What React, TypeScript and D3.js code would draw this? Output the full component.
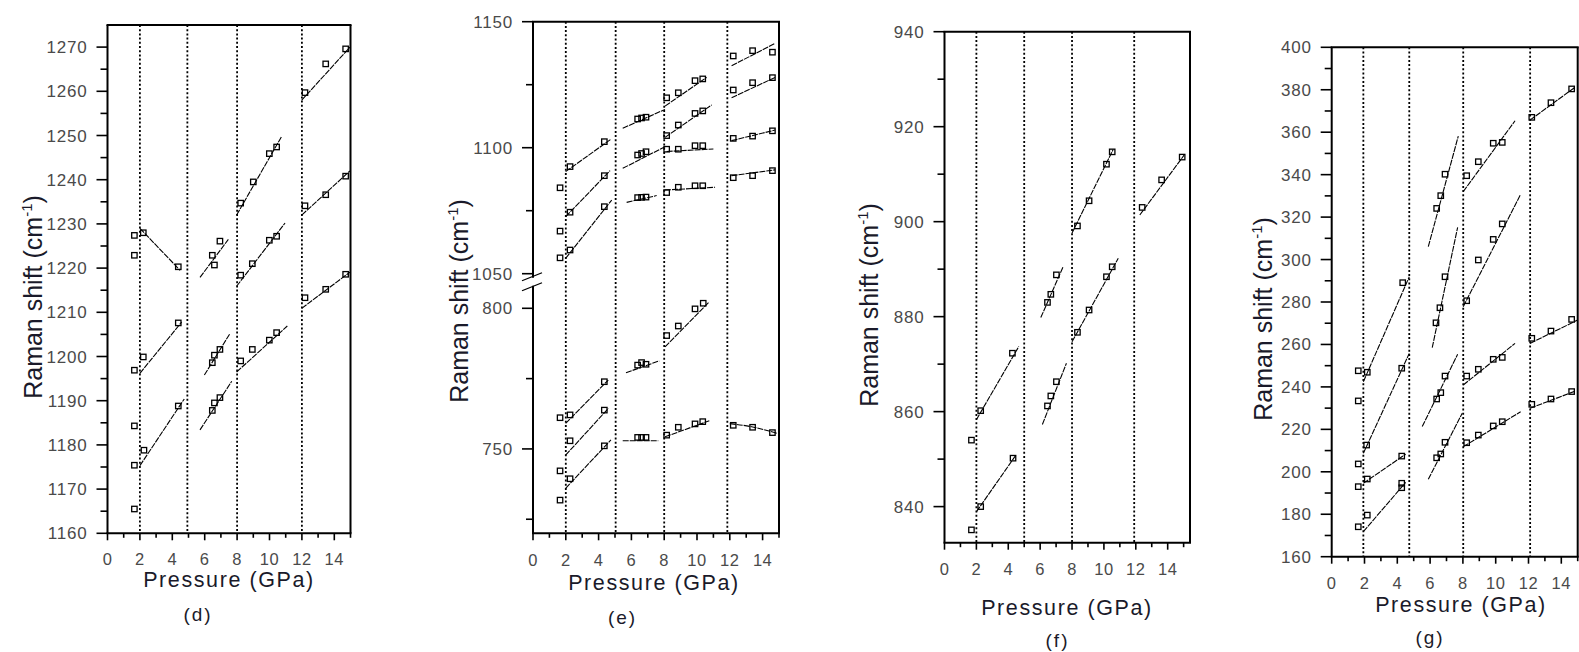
import React from "react";
import * as d3 from "d3";

type Pt = [number, number];

// ---------- shared axis data ----------
const xMajor = [0, 2, 4, 6, 8, 10, 12, 14];
const xMinor = [1, 3, 5, 7, 9, 11, 13, 15];
const xTitle = "Pressure (GPa)";
const panelLabels = ["(d)", "(e)", "(f)", "(g)"];

// ---------- panel (d) ----------
const boundsD = [2, 4.93, 8, 12];
const yMajorD = [1160, 1170, 1180, 1190, 1200, 1210, 1220, 1230, 1240, 1250, 1260, 1270];
const yMinorD = [1165, 1175, 1185, 1195, 1205, 1215, 1225, 1235, 1245, 1255, 1265];
const pointsD: Pt[] = [
  [1.66, 1227.4], [1.66, 1222.9], [2.21, 1228.0], [4.37, 1220.3],
  [6.47, 1222.9], [6.6, 1220.7], [6.94, 1226.1],
  [8.22, 1234.7], [9.0, 1239.5], [9.99, 1245.9], [10.44, 1247.4],
  [8.22, 1218.4], [8.94, 1221.0], [9.99, 1226.3], [10.44, 1227.2],
  [12.19, 1259.7], [13.47, 1266.2], [14.7, 1269.6],
  [12.19, 1234.1], [13.47, 1236.6], [14.7, 1240.8],
  [12.19, 1213.3], [13.47, 1215.2], [14.7, 1218.6],
  [1.66, 1196.9], [2.21, 1199.9], [4.37, 1207.6],
  [1.66, 1184.3], [1.66, 1175.4], [2.25, 1178.8], [4.37, 1188.8], [1.66, 1165.5],
  [6.47, 1198.6], [6.6, 1200.3], [6.94, 1201.6],
  [6.47, 1187.8], [6.6, 1189.5], [6.94, 1190.7],
  [8.22, 1199.0], [8.94, 1201.6], [9.99, 1203.7], [10.44, 1205.4],
];
const fitsD: Pt[][] = [
  [[2.0, 1229.0], [4.48, 1219.5]],
  [[5.71, 1217.9], [7.46, 1226.5]],
  [[7.97, 1232.0], [10.75, 1249.8]],
  [[7.97, 1215.9], [10.96, 1230.2]],
  [[11.99, 1258.0], [14.97, 1270.0]],
  [[11.99, 1232.0], [14.97, 1242.0]],
  [[11.99, 1210.9], [14.97, 1219.1]],
  [[2.0, 1196.2], [4.58, 1207.8]],
  [[2.0, 1175.3], [4.74, 1190.4]],
  [[5.98, 1195.8], [7.56, 1205.2]],
  [[5.71, 1183.4], [7.67, 1194.4]],
  [[7.97, 1196.5], [11.1, 1206.9]],
];

// ---------- panel (e) (broken axis) ----------
const boundsE = [2, 5.04, 8, 11.85];
const yMajorEUpper = [1050, 1100, 1150];
const yMinorEUpper = [1075, 1125];
const yMajorELower = [750, 800];
const yMinorELower = [725, 775];
const pointsE: Pt[] = [
  [1.65, 1084.1], [1.65, 1066.9], [1.65, 1056.3],
  [2.26, 1092.5], [4.35, 1102.4],
  [2.26, 1074.4], [4.35, 1088.9],
  [2.26, 1059.4], [4.35, 1076.6],
  [6.38, 1111.4], [6.62, 1111.8], [6.89, 1112.1],
  [6.38, 1097.1], [6.62, 1097.7], [6.89, 1098.4],
  [6.38, 1080.2], [6.62, 1080.3], [6.89, 1080.4],
  [8.15, 1119.8], [8.86, 1121.8], [9.88, 1126.6], [10.35, 1127.3],
  [8.15, 1104.8], [8.86, 1109.0], [9.88, 1113.6], [10.35, 1114.6],
  [8.15, 1099.4], [8.86, 1099.4], [9.88, 1100.8], [10.35, 1100.8],
  [8.15, 1082.2], [8.86, 1084.3], [9.88, 1084.9], [10.35, 1084.9],
  [12.21, 1136.4], [13.39, 1138.5], [14.6, 1137.9],
  [12.21, 1122.9], [13.39, 1125.8], [14.6, 1127.8],
  [12.21, 1103.7], [13.39, 1104.6], [14.6, 1106.7],
  [12.21, 1088.1], [13.39, 1088.9], [14.6, 1090.9],
  [1.65, 761.1], [2.26, 762.1], [4.35, 773.9],
  [2.26, 752.9], [4.35, 763.8],
  [1.65, 742.2], [2.26, 739.4], [4.35, 751.1], [1.65, 731.8],
  [6.38, 779.8], [6.62, 780.7], [6.89, 780.1],
  [6.38, 754.1], [6.62, 754.1], [6.89, 754.1],
  [8.15, 790.3], [8.86, 793.7], [9.88, 799.8], [10.38, 801.8],
  [8.15, 754.9], [8.86, 757.7], [9.88, 758.9], [10.35, 759.7],
  [12.21, 758.4], [13.39, 757.7], [14.6, 755.8],
];
const fitsE: Pt[][] = [
  [[1.99, 1090.5], [4.74, 1103.3]],
  [[1.99, 1072.6], [4.7, 1090.9]],
  [[1.99, 1056.1], [4.8, 1079.2]],
  [[5.47, 1107.7], [8.05, 1115.2]],
  [[5.47, 1091.8], [8.05, 1100.4]],
  [[5.71, 1078.3], [7.54, 1081.0]],
  [[8.05, 1116.5], [10.59, 1127.9]],
  [[8.05, 1104.1], [10.9, 1117.0]],
  [[8.15, 1098.5], [11.0, 1099.5]],
  [[8.05, 1083.2], [11.1, 1084.3]],
  [[12.11, 1132.5], [14.76, 1141.4]],
  [[12.11, 1119.8], [14.76, 1127.9]],
  [[12.11, 1102.8], [14.76, 1107.0]],
  [[12.11, 1088.9], [14.76, 1091.2]],
  [[1.99, 759.1], [4.59, 774.5]],
  [[1.99, 747.8], [4.59, 764.4]],
  [[1.99, 736.0], [4.75, 753.2]],
  [[5.67, 777.1], [7.7, 781.3]],
  [[5.47, 752.9], [7.64, 752.9]],
  [[8.05, 786.3], [10.75, 802.3]],
  [[8.05, 754.3], [10.75, 760.0]],
  [[12.0, 759.0], [13.4, 757.8], [14.9, 755.5]],
];

// ---------- panel (f) ----------
const boundsF = [2, 5, 8, 11.9];
const yMajorF = [840, 860, 880, 900, 920, 940];
const yMinorF = [850, 870, 890, 910, 930];
const pointsF: Pt[] = [
  [8.34, 899.1], [9.07, 904.4], [10.16, 912.1], [10.52, 914.7],
  [12.4, 903.0], [13.62, 908.8], [14.91, 913.6],
  [6.46, 883.0], [6.67, 884.7], [7.02, 888.8],
  [8.34, 876.7], [9.07, 881.4], [10.16, 888.4], [10.52, 890.5],
  [6.46, 861.2], [6.67, 863.3], [7.02, 866.3],
  [1.69, 854.0], [2.27, 860.2], [4.26, 872.3],
  [1.69, 835.1], [2.27, 840.0], [4.3, 850.2],
];
const fitsF: Pt[][] = [
  [[8.0, 897.6], [10.58, 915.2]],
  [[12.25, 901.4], [15.03, 914.0]],
  [[6.04, 879.8], [7.44, 890.5]],
  [[8.0, 874.7], [10.9, 892.3]],
  [[6.14, 857.3], [7.65, 870.2]],
  [[2.0, 858.3], [4.66, 873.7]],
  [[2.0, 838.9], [4.47, 850.8]],
];

// ---------- panel (g) ----------
const boundsG = [1.93, 4.73, 8.02, 12.1];
const yMajorG = [160, 180, 200, 220, 240, 260, 280, 300, 320, 340, 360, 380, 400];
const yMinorG = [170, 190, 210, 230, 250, 270, 290, 310, 330, 350, 370, 390];
const pointsG: Pt[] = [
  [12.2, 367.0], [13.37, 373.9], [14.63, 380.4],
  [8.23, 339.5], [8.94, 346.1], [9.85, 354.8], [10.4, 355.2],
  [8.23, 280.6], [8.94, 299.8], [9.85, 309.5], [10.4, 316.8],
  [6.4, 324.1], [6.65, 330.1], [6.91, 340.2],
  [6.36, 270.2], [6.6, 277.3], [6.91, 291.9],
  [1.62, 247.6], [2.17, 246.9], [4.33, 289.1],
  [1.62, 233.4], [2.13, 212.6], [4.27, 248.8],
  [1.62, 203.7], [1.62, 193.0], [2.17, 196.6], [4.27, 207.4],
  [1.62, 174.1], [2.17, 179.6], [4.27, 194.6], [4.27, 192.5],
  [6.4, 234.3], [6.65, 237.3], [6.91, 245.1],
  [6.4, 206.6], [6.65, 208.4], [6.91, 213.9],
  [8.23, 245.1], [8.94, 248.3], [9.85, 253.0], [10.4, 253.9],
  [8.23, 213.7], [8.94, 217.3], [9.85, 221.6], [10.4, 223.6],
  [12.2, 262.9], [13.37, 266.3], [14.63, 271.8],
  [12.2, 231.8], [13.37, 234.3], [14.63, 237.8],
];
const fitsG: Pt[][] = [
  [[12.09, 365.7], [14.84, 381.2]],
  [[8.02, 332.0], [11.18, 365.4]],
  [[8.02, 277.8], [11.52, 330.7]],
  [[5.89, 306.1], [7.72, 358.2]],
  [[6.13, 258.5], [7.68, 315.2]],
  [[1.93, 242.4], [4.73, 291.9]],
  [[1.93, 208.7], [4.73, 255.8]],
  [[1.93, 194.6], [4.51, 208.3]],
  [[1.93, 171.8], [4.51, 195.0]],
  [[5.52, 221.3], [7.68, 255.4]],
  [[5.89, 196.5], [7.96, 227.6]],
  [[8.02, 240.9], [11.18, 260.5]],
  [[8.02, 211.8], [11.52, 228.3]],
  [[12.09, 260.5], [15.0, 271.5]],
  [[12.09, 229.9], [14.84, 238.0]],
];

// ---------- layout ----------
const FONT = "Arial, 'Liberation Sans', Helvetica, sans-serif";
const TICK_COLOR = "#4a4a4a";
const TEXT_COLOR = "#1a1a2a";

interface Layout {
  left: number; right: number; top: number; bottom: number;
  xMax: number; tickDy: number; titleDy: number; titleX: number;
  yTitleX: number; yTitleY: number; labelX: number; labelY: number;
}

interface PanelProps {
  lay: Layout;
  y: (v: number) => number;
  yMajor: number[];
  yMinor: number[];
  bounds: number[];
  points: Pt[];
  fits: Pt[][];
  label: string;
  axisGaps?: [number, number][];
  breakMarks?: number;
}

function Panel({ lay, y, yMajor, yMinor, bounds, points, fits, label, axisGaps, breakMarks }: PanelProps) {
  const x = d3.scaleLinear().domain([0, lay.xMax]).range([lay.left, lay.right]);
  const line = d3.line<Pt>().x((d) => x(d[0])).y((d) => y(d[1])).curve(d3.curveMonotoneX);
  const { left, right, top, bottom } = lay;

  const leftSegs: [number, number][] = [];
  if (axisGaps && axisGaps.length) {
    let start = top;
    axisGaps.forEach(([a, b]) => { leftSegs.push([start, a]); start = b; });
    leftSegs.push([start, bottom]);
  } else {
    leftSegs.push([top, bottom]);
  }

  return (
    <g>
      {bounds.map((b, i) => (
        <line key={"b" + i} x1={x(b)} x2={x(b)} y1={top} y2={bottom}
          stroke="#000" strokeWidth={1.8} strokeDasharray="2 2.2" />
      ))}
      {fits.map((f, i) => (
        <path key={"f" + i} d={line(f) || ""}
          fill="none" stroke="#000" strokeWidth={1.1} strokeDasharray="6 1" />
      ))}
      {points.map((p, i) => (
        <rect key={"p" + i} x={x(p[0]) - 2.7} y={y(p[1]) - 2.7} width={5.4} height={5.4}
          fill="none" stroke="#000" strokeWidth={1.3} />
      ))}
      <line x1={left - 1} x2={right + 1} y1={top} y2={top} stroke="#000" strokeWidth={2} />
      <line x1={right} x2={right} y1={top} y2={bottom} stroke="#000" strokeWidth={2} />
      <line x1={left - 1} x2={right + 1} y1={bottom} y2={bottom} stroke="#000" strokeWidth={2} />
      {leftSegs.map(([a, b], i) => (
        <line key={"ls" + i} x1={left} x2={left} y1={a} y2={b} stroke="#000" strokeWidth={2} />
      ))}
      {breakMarks !== undefined && (
        <g stroke="#000" strokeWidth={1.3}>
          <line x1={left - 11} x2={left + 9} y1={breakMarks - 1} y2={breakMarks - 9} />
          <line x1={left - 11} x2={left + 9} y1={breakMarks + 9} y2={breakMarks + 1} />
        </g>
      )}
      {yMajor.map((v) => (
        <g key={"ym" + v}>
          <line x1={left - 11} x2={left} y1={y(v)} y2={y(v)} stroke="#000" strokeWidth={1.6} />
          <text x={left - 20} y={y(v) + 6} textAnchor="end" fontSize={17} fontFamily={FONT}
            fill={TICK_COLOR} letterSpacing={0.8}>{v}</text>
        </g>
      ))}
      {yMinor.map((v) => (
        <line key={"yn" + v} x1={left - 7} x2={left} y1={y(v)} y2={y(v)} stroke="#000" strokeWidth={1.6} />
      ))}
      {xMajor.map((v) => (
        <g key={"xm" + v}>
          <line x1={x(v)} x2={x(v)} y1={bottom} y2={bottom + 7} stroke="#000" strokeWidth={1.6} />
          <text x={x(v)} y={bottom + lay.tickDy} textAnchor="middle" fontSize={16.5} fontFamily={FONT}
            fill={TICK_COLOR} letterSpacing={0.5}>{v}</text>
        </g>
      ))}
      {xMinor.filter((v) => v <= lay.xMax).map((v) => (
        <line key={"xn" + v} x1={x(v)} x2={x(v)} y1={bottom} y2={bottom + 4.5} stroke="#000" strokeWidth={1.6} />
      ))}
      <text x={lay.titleX} y={bottom + lay.titleDy} textAnchor="middle" fontSize={21.5} fontFamily={FONT}
        fill={TEXT_COLOR} letterSpacing={1.6}>{xTitle}</text>
      <text transform={`translate(${lay.yTitleX},${lay.yTitleY}) rotate(-90)`} textAnchor="middle"
        fontSize={25} fontFamily={FONT} fill={TEXT_COLOR}>
        Raman shift (cm<tspan fontSize={15} dy={-10}>-1</tspan><tspan dy={10}>)</tspan>
      </text>
      <text x={lay.labelX} y={lay.labelY} textAnchor="middle" fontSize={19} fontFamily={FONT}
        fill={TEXT_COLOR} letterSpacing={2}>{label}</text>
    </g>
  );
}

const layD: Layout = { left: 107.5, right: 350.5, top: 25, bottom: 533.3, xMax: 15, tickDy: 32, titleDy: 53.5, titleX: 229, yTitleX: 42, yTitleY: 297, labelX: 198, labelY: 621 };
const layE: Layout = { left: 533, right: 779, top: 21.7, bottom: 533.3, xMax: 15, tickDy: 32.5, titleDy: 57, titleX: 654, yTitleX: 468, yTitleY: 301, labelX: 622.5, labelY: 624 };
const layF: Layout = { left: 944.5, right: 1190, top: 31.7, bottom: 542.7, xMax: 15.4, tickDy: 32, titleDy: 72, titleX: 1067, yTitleX: 878, yTitleY: 305, labelX: 1057.5, labelY: 647 };
const layG: Layout = { left: 1331.7, right: 1577.7, top: 47.3, bottom: 556.7, xMax: 15, tickDy: 32, titleDy: 55.5, titleX: 1461, yTitleX: 1272, yTitleY: 319, labelX: 1430, labelY: 644 };

export default function App() {
  const yD = d3.scaleLinear().domain([1160, 1275]).range([layD.bottom, layD.top]);
  const yEUp = d3.scaleLinear().domain([1050, 1150]).range([273.7, layE.top]);
  const yELo = d3.scaleLinear().domain([720, 800]).range([layE.bottom, 308.3]);
  const yE = (v: number) => (v > 950 ? yEUp(v) : yELo(v));
  const yF = d3.scaleLinear().domain([832.4, 940]).range([layF.bottom, layF.top]);
  const yG = d3.scaleLinear().domain([160, 400]).range([layG.bottom, layG.top]);
  const breakY = yEUp(1046.8);

  return (
    <svg width={1579} height={652} style={{ position: "absolute", left: 0, top: 0, background: "#fff" }}>
      <rect x={0} y={0} width={1579} height={652} fill="#fff" />
      <Panel lay={layD} y={yD} yMajor={yMajorD} yMinor={yMinorD} bounds={boundsD}
        points={pointsD} fits={fitsD} label={panelLabels[0]} />
      <Panel lay={layE} y={yE} yMajor={[...yMajorEUpper, ...yMajorELower]}
        yMinor={[...yMinorEUpper, ...yMinorELower]} bounds={boundsE}
        points={pointsE} fits={fitsE} label={panelLabels[1]}
        axisGaps={[[breakY - 4, breakY + 4]]} breakMarks={breakY} />
      <Panel lay={layF} y={yF} yMajor={yMajorF} yMinor={yMinorF} bounds={boundsF}
        points={pointsF} fits={fitsF} label={panelLabels[2]} />
      <Panel lay={layG} y={yG} yMajor={yMajorG} yMinor={yMinorG} bounds={boundsG}
        points={pointsG} fits={fitsG} label={panelLabels[3]} />
    </svg>
  );
}
